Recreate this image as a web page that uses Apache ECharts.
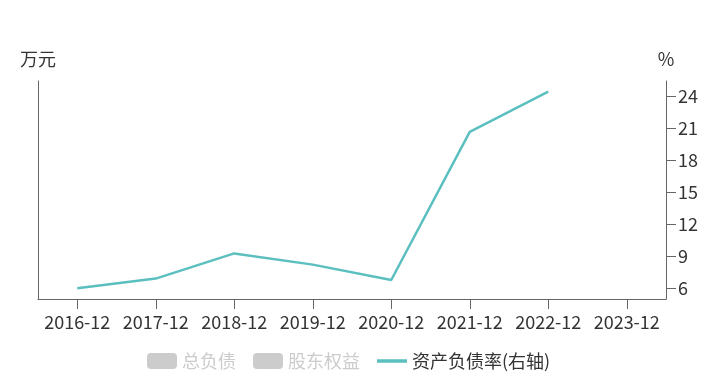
<!DOCTYPE html>
<html>
<head>
<meta charset="utf-8">
<script src="https://cdn.jsdelivr.net/npm/echarts@6/dist/echarts.min.js"></script>
<style>html,body{margin:0;padding:0;background:#fff}#c{width:720px;height:385px}</style>
</head>
<body>
<div id="c"></div>
<script>
var categories = ['2016-12','2017-12','2018-12','2019-12','2020-12','2021-12','2022-12','2023-12'];
var totalDebt = [null,null,null,null,null,null,null,null];
var equity = [null,null,null,null,null,null,null,null];
var debtRatio = [6.03, 6.94, 9.30, 8.25, 6.81, 20.69, 24.45, null];
var rightTicks = [6, 9, 12, 15, 18, 21, 24];

var font = '"Noto Sans CJK SC", "Noto Sans", sans-serif';
var chart = echarts.init(document.getElementById('c'));
chart.setOption({
  animation: false,
  textStyle: { fontFamily: font },
  grid: { left: 38, right: 54, top: 81, bottom: 86 },
  legend: {
    bottom: 10,
    left: 142,
    itemGap: 17,
    itemWidth: 30,
    itemHeight: 16,
    textStyle: { fontSize: 18, color: '#333', fontFamily: font },
    inactiveColor: '#ccc',
    selected: { '总负债': false, '股东权益': false },
    data: [
      { name: '总负债', icon: 'roundRect' },
      { name: '股东权益', icon: 'roundRect' },
      { name: '资产负债率(右轴)', icon: 'path://M0,0 L0,0.01 M0,6.3 L30,6.3 L30,9.7 L0,9.7 Z M30,16 L30,15.99', itemStyle: { color: '#5bbfc0' } }
    ]
  },
  xAxis: {
    type: 'category',
    data: categories,
    boundaryGap: true,
    axisLine: { lineStyle: { color: '#666' } },
    axisTick: { show: true, alignWithLabel: true, length: 10, lineStyle: { color: '#666' } },
    axisLabel: { fontSize: 18, color: '#333', margin: 14, interval: 0 }
  },
  yAxis: [
    {
      type: 'value',
      name: '万元',
      nameGap: 13,
      nameTextStyle: { fontSize: 18, color: '#333', align: 'center' },
      axisLine: { show: true, lineStyle: { color: '#666' } },
      axisTick: { show: false },
      axisLabel: { show: false },
      splitLine: { show: false }
    },
    {
      type: 'value',
      name: '%',
      nameGap: 13,
      nameTextStyle: { fontSize: 18, color: '#333', align: 'center' },
      position: 'right',
      min: function (v) { return v.min - 1; },
      max: function (v) { return v.max + 1; },
      axisLine: { show: true, lineStyle: { color: '#666' } },
      axisTick: { show: true, length: 10, customValues: rightTicks, lineStyle: { color: '#666' } },
      axisLabel: { fontSize: 18, color: '#333', margin: 12, customValues: rightTicks },
      splitLine: { show: false }
    }
  ],
  series: [
    { name: '总负债', type: 'bar', yAxisIndex: 0, data: totalDebt, itemStyle: { color: '#4e8fd8' } },
    { name: '股东权益', type: 'bar', yAxisIndex: 0, data: equity, itemStyle: { color: '#f2a33a' } },
    {
      name: '资产负债率(右轴)', type: 'line', yAxisIndex: 1, data: debtRatio,
      showSymbol: false, symbol: 'none',
      lineStyle: { width: 2.5, color: '#5bbfc0' },
      itemStyle: { color: '#5bbfc0' }
    }
  ]
});
</script>
</body>
</html>
